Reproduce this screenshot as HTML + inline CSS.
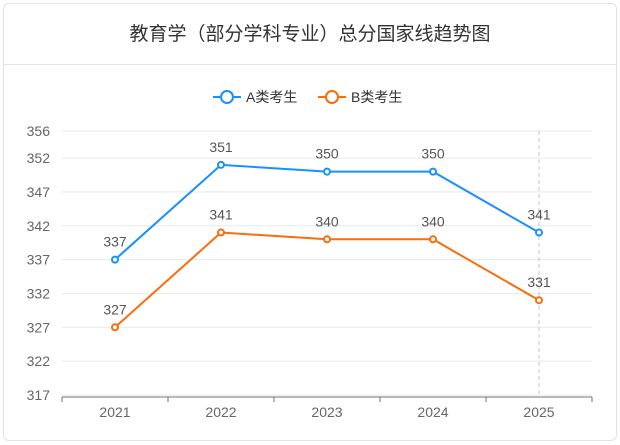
<!DOCTYPE html>
<html><head><meta charset="utf-8"><style>
body{margin:0;background:#fff;width:620px;height:445px;overflow:hidden;font-family:"Liberation Sans","Noto Sans CJK SC",sans-serif}
.card{position:absolute;left:3px;top:3px;width:612px;height:436px;border:1px solid #e3e3e3;border-radius:6px;background:#fff}
.title{position:absolute;left:0;top:0;width:612px;height:60px;line-height:62px;text-align:center;font-size:19px;color:#333;border-bottom:1px solid #e5e5e5}
svg{position:absolute;left:0;top:0}
</style></head><body>
<div class="card">
<div class="title">教育学（部分学科专业）总分国家线趋势图</div>
</div>
<svg id="c" width="620" height="445" font-family="Liberation Sans, Noto Sans CJK SC, sans-serif"></svg>
<script>
const categories=["2021","2022","2023","2024","2025"];
const seriesA=[337,351,350,350,341];
const seriesB=[327,341,340,340,331];
const yTicks=[356,352,347,342,337,332,327,322,317];
const seriesNames=["A类考生","B类考生"];
const colors=["#1890ff","#fa6c0c"];
const NS="http://www.w3.org/2000/svg";
const svg=document.getElementById('c');
const x0=62,x1=592,yMin=317,yMax=356,yB=395,yT=131;
const bw=(x1-x0)/categories.length;
const xs=i=>x0+bw*(i+0.5);
const ys=v=>yB-(v-yMin)*(yB-yT)/(yMax-yMin);
function mk(t,a){const e=document.createElementNS(NS,t);for(const k in a)e.setAttribute(k,a[k]);svg.appendChild(e);return e;}
yTicks.forEach(v=>{
const g=mk('line',{x1:x0,x2:x1,y1:ys(v),y2:ys(v),stroke:'#e6e9f0'});


const t=mk('text',{x:50,y:ys(v)+5,'text-anchor':'end','font-size':14,fill:'#666'});t.textContent=v;


});
const ax=mk('line',{x1:x0,x2:x1,y1:yB+2,y2:yB+2,stroke:'#6e7079'});


for(let i=0;i<=categories.length;i++){mk('line',{x1:x0+bw*i,x2:x0+bw*i,y1:yB+2,y2:yB+7,stroke:'#6e7079'});}
categories.forEach((c,i)=>{const t=mk('text',{x:xs(i),y:yB+22,'text-anchor':'middle','font-size':14,fill:'#666'});t.textContent=c;

});
const pl=mk('line',{x1:xs(4),x2:xs(4),y1:yT,y2:yB+2,stroke:'#c0c4cc','stroke-dasharray':'4,3'});


[seriesA,seriesB].forEach((s,k)=>{
const p=mk('polyline',{points:s.map((v,i)=>xs(i)+','+ys(v)).join(' '),fill:'none',stroke:colors[k],'stroke-width':2});


s.forEach((v,i)=>{
const c=mk('circle',{cx:xs(i),cy:ys(v),r:3,fill:'#fff',stroke:colors[k],'stroke-width':2});


const t=mk('text',{x:xs(i),y:ys(v)-13,'text-anchor':'middle','font-size':14,fill:'#555'});t.textContent=v;


});
});
const lx=[213,318];
seriesNames.forEach((n,k)=>{
mk('line',{x1:lx[k],x2:lx[k]+28,y1:97,y2:97,stroke:colors[k],'stroke-width':2});
const c=mk('circle',{cx:lx[k]+14,cy:97,r:6,fill:'#fff',stroke:colors[k],'stroke-width':2});


const t=mk('text',{x:lx[k]+33,y:102,'font-size':14,fill:'#333'});t.textContent=n;


});
</script>
</body></html>
